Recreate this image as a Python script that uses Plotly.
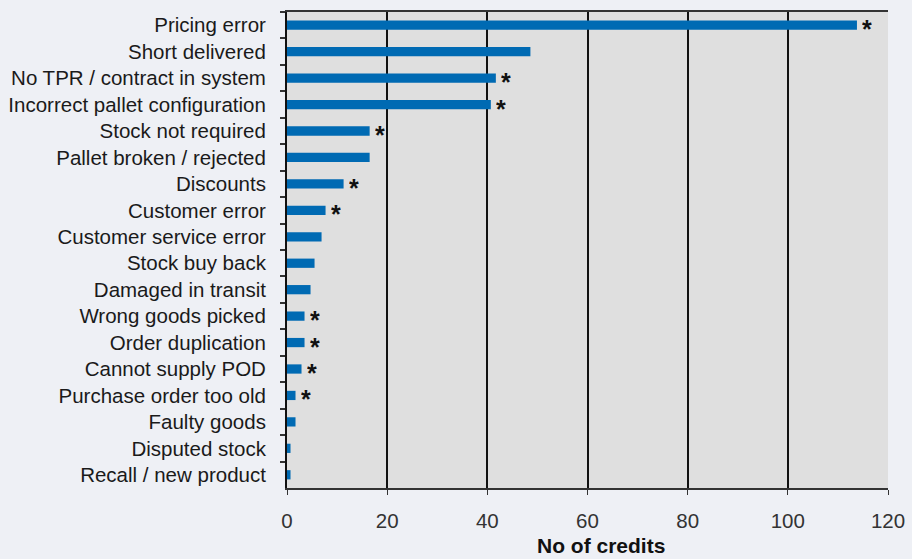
import plotly.graph_objects as go

categories = [
    "Pricing error", "Short delivered", "No TPR / contract in system",
    "Incorrect pallet configuration", "Stock not required", "Pallet broken / rejected",
    "Discounts", "Customer error", "Customer service error", "Stock buy back",
    "Damaged in transit", "Wrong goods picked", "Order duplication",
    "Cannot supply POD", "Purchase order too old", "Faulty goods",
    "Disputed stock", "Recall / new product",
]
credits = [113.8, 48.6, 41.7, 40.7, 16.5, 16.5, 11.3, 7.7, 6.9, 5.5,
           4.7, 3.5, 3.5, 2.9, 1.7, 1.7, 0.7, 0.7]
starred = [True, False, True, True, True, False, True, True, False, False,
           False, True, True, True, True, False, False, False]
x_ticks = [0, 20, 40, 60, 80, 100, 120]

FONT = "Liberation Sans"

fig = go.Figure()
fig.add_trace(go.Bar(
    x=credits, y=categories, orientation="h",
    marker=dict(color="#006AB3", line=dict(width=0)),
    width=0.35, showlegend=False, hoverinfo="x+y",
))

for cat, val, star in zip(categories, credits, starred):
    if star:
        fig.add_annotation(
            x=val, y=cat, text="<b>*</b>", showarrow=False,
            xanchor="left", yanchor="middle", xshift=3, yshift=-4,
            height=20, valign="middle",
            font=dict(family=FONT, size=25, color="#111111"),
        )

fig.add_annotation(
    x=0.522, y=-0.121, xref="paper", yref="paper", text="<b>No of credits</b>",
    showarrow=False, xanchor="center", yanchor="middle",
    font=dict(family=FONT, size=21, color="#111111"),
)

fig.update_layout(
    width=912, height=559,
    margin=dict(l=287, r=24, t=12, b=71),
    paper_bgcolor="#EEF0F5", plot_bgcolor="#DFDFDF",
    font=dict(family=FONT, size=20, color="#1a1a1a"),
    bargap=0.65,
)
fig.update_xaxes(
    range=[0, 120], tickvals=x_ticks, ticktext=[str(t) for t in x_ticks],
    showgrid=True, gridcolor="#111111", gridwidth=1.5,
    ticks="outside", ticklen=5, tickcolor="#333333", tickwidth=1,
    showline=True, linecolor="#333333", linewidth=1.5, mirror=True,
    zeroline=False, tickfont=dict(size=20.5, color="#333333"),
    ticklabelstandoff=9, automargin=False,
)
fig.update_yaxes(
    range=[len(categories) - 0.5, -0.5], autorange=False, showgrid=False,
    ticks="outside", tickson="boundaries", ticklen=5, tickcolor="#333333", tickwidth=1.5,
    showline=True, linecolor="#111111", linewidth=2,
    tickfont=dict(size=20.5, color="#1a1a1a"), ticklabelstandoff=15,
    automargin=False,
)

fig.write_html("out.html")
